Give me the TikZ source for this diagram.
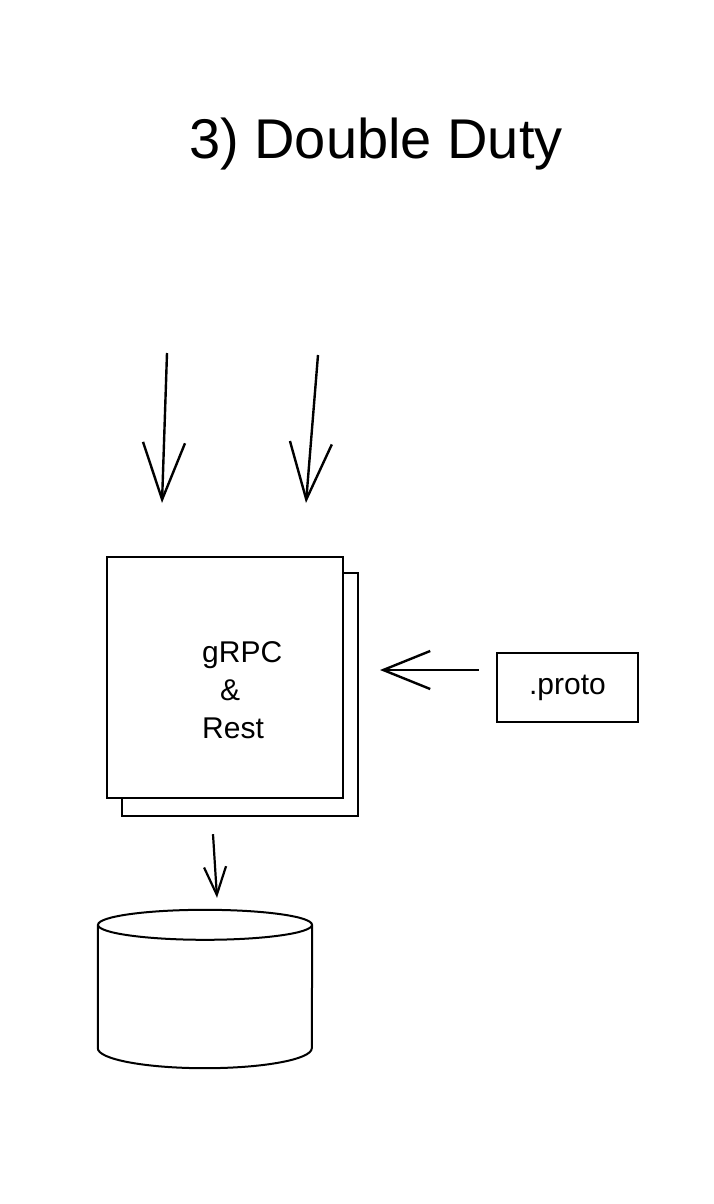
\documentclass[tikz,border=0pt]{standalone}
\usepackage{fontspec}
\setmainfont{Liberation Sans}
\usetikzlibrary{arrows.meta}

\tikzset{
  sketchbox/.style={draw, line width=2.4pt, fill=white, inner sep=0pt},
  bigarrow/.style={line width=2.4pt, -{Straight Barb[length=57pt,width=42pt,line width=2.4pt]}},
  midarrow/.style={line width=2.4pt, -{Straight Barb[length=47pt,width=38pt,line width=2.4pt]}},
  smallarrow/.style={line width=2.2pt, -{Straight Barb[length=28pt,width=22pt,line width=2.2pt]}},
}

\begin{document}
\begin{tikzpicture}[x=1pt,y=1pt]
      \fill[white] (0,0) rectangle (714,-1204);
      \useasboundingbox (0,0) rectangle (714,-1204);
      \node (title) [anchor=base, font=\fontsize{56}{67}\selectfont] at (376,-158) {3) Double Duty};
      \node (apiback) [sketchbox, minimum width=236pt, minimum height=243pt] at (240,-694.5) {};
      \node (api) [sketchbox, minimum width=236pt, minimum height=241pt] at (225,-677.5) {};
      \node (apitext) [anchor=north west, inner sep=0pt, align=left, font=\fontsize{30}{38}\selectfont] at (202,-641) {gRPC\\\hspace*{18pt}\&\\Rest};
      \node (proto) [sketchbox, minimum width=141pt, minimum height=69pt, font=\fontsize{30}{36}\selectfont] at (567.5,-687.5) {.proto};
      \node (db) [minimum width=214pt, minimum height=158pt, inner sep=0pt] at (205,-989) {};
      % database drum
      \draw[line width=2pt] ([yshift=-15pt]db.north) ellipse [x radius=107pt, y radius=15pt];
      \draw[line width=2pt] ([yshift=-15pt]db.north west) -- ([yshift=20pt]db.south west)
            arc [start angle=180, end angle=360, x radius=107pt, y radius=20pt]
            -- ([yshift=-15pt]db.north east);
      \coordinate (in1) at (167,-353);
      \coordinate (in1tip) at (162,-503);
      \coordinate (in2) at (318,-355);
      \coordinate (in2tip) at (306,-503);
      \coordinate (protoin) at (380,-670);
      \path (in1) edge [bigarrow] (in1tip);
      \path (in2) edge [bigarrow] (in2tip);
      \path ([yshift=17.5pt]proto.west) ++(-17,0) edge [midarrow] (protoin);
      \path ([shift={(-12,-35)}]api.south) edge [smallarrow] ([shift={(12,12)}]db.north);
    \end{tikzpicture}
\end{document}
